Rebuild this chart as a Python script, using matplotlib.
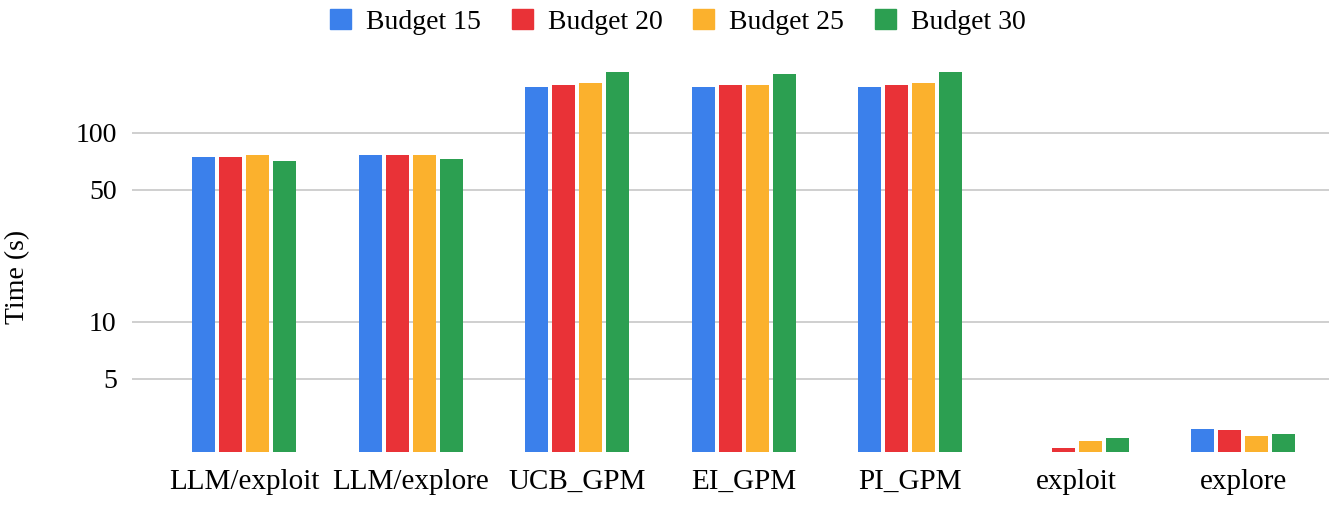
import numpy as np
import matplotlib
matplotlib.use("Agg")
import matplotlib.pyplot as plt
from matplotlib.ticker import FixedLocator, NullLocator, FixedFormatter

# Data
methods = ["LLM/exploit", "LLM/explore", "UCB_GPM", "EI_GPM", "PI_GPM", "exploit", "explore"]
budget_15 = [74, 76, 175, 175, 175, 2.0, 2.72]
budget_20 = [74, 76, 179, 179, 179, 2.15, 2.68]
budget_25 = [76, 76, 182, 179, 182, 2.35, 2.50]
budget_30 = [71, 72.6, 208, 203, 208, 2.44, 2.55]

series_names = ["Budget 15", "Budget 20", "Budget 25", "Budget 30"]
colors = ["#3b80eb", "#e93237", "#fbb12d", "#2c9f51"]

plt.rcParams["font.family"] = ["Liberation Serif", "DejaVu Serif"]

fig = plt.figure(figsize=(13.29, 5.15), dpi=100)
# axes placed by pixel: left 132, right 1329, top 60, bottom 452
ax = fig.add_axes([132 / 1329, 1 - 452 / 515, (1329 - 132) / 1329, (452 - 60) / 515])

x = np.arange(len(methods))
pitch = 0.162
width = 0.14
all_series = [budget_15, budget_20, budget_25, budget_30]
for i, (vals, name, col) in enumerate(zip(all_series, series_names, colors)):
    ax.bar(x + (i - 1.5) * pitch, vals, width, color=col, label=name, zorder=3)

ax.set_yscale("log")
ax.set_ylim(2.057, 242)
ax.set_xlim(-0.674, 6.515)

ax.yaxis.set_major_locator(FixedLocator([5, 10, 50, 100]))
ax.yaxis.set_major_formatter(FixedFormatter(["5", "10", "50", "100"]))
ax.yaxis.set_minor_locator(NullLocator())
ax.grid(axis="y", color="#cccccc", linewidth=1.3, zorder=0)

ax.set_xticks(x)
ax.set_xticklabels(methods)
ax.tick_params(axis="y", length=0, labelsize=20, pad=11)
ax.tick_params(axis="x", length=0, labelsize=21, pad=12)

for s in ax.spines.values():
    s.set_visible(False)

fig.text(18 / 1329, 1 - 277 / 515, "Time (s)", rotation=90, fontsize=20,
         ha="center", va="center")

handles = [plt.Rectangle((0, 0), 1, 1, color=c) for c in colors]
fig.legend(handles, series_names, loc="center", bbox_to_anchor=(678 / 1329, 1 - 22 / 515),
           ncol=4, frameon=False, fontsize=20, handlelength=0.75, handleheight=0.75,
           handletextpad=0.54, columnspacing=1.11)

fig.savefig("out.png", dpi=100)
